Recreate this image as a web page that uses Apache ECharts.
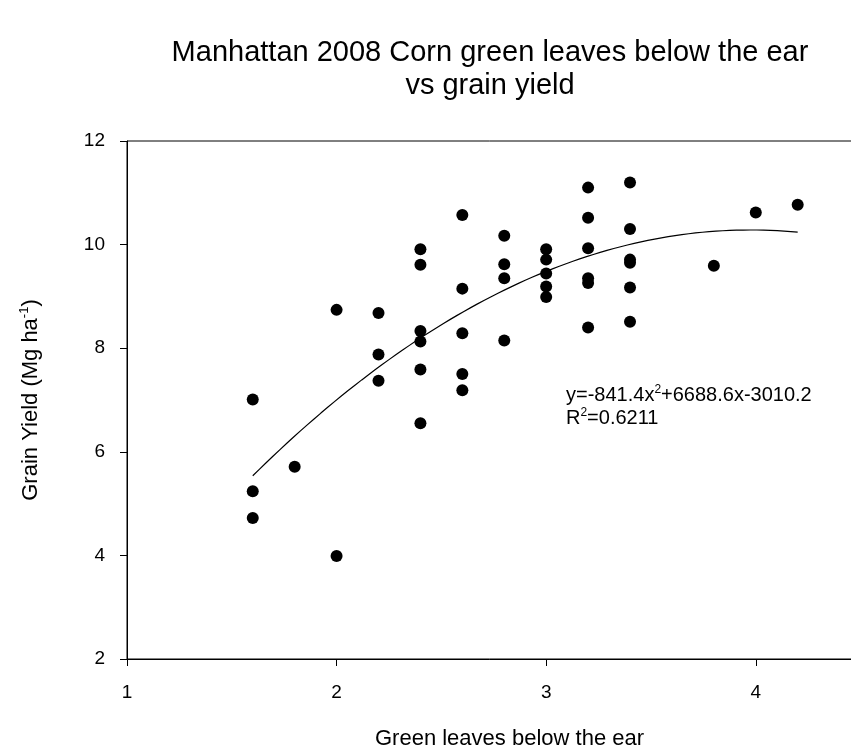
<!DOCTYPE html>
<html>
<head>
<meta charset="utf-8">
<title>Manhattan 2008 Corn green leaves below the ear vs grain yield</title>
<script src="https://cdn.jsdelivr.net/npm/echarts@6/dist/echarts.min.js"></script>
<style>
  html, body { margin: 0; padding: 0; background: #fff; }
  #chart { width: 851px; height: 745px; }
</style>
</head>
<body>
<div id="chart"></div>
<script>
// Green leaves below the ear (count) for each plot
const leaves = [
  1.6, 1.6, 1.6,
  1.8,
  2.0, 2.0,
  2.2, 2.2, 2.2,
  2.4, 2.4, 2.4, 2.4, 2.4, 2.4,
  2.6, 2.6, 2.6, 2.6, 2.6,
  2.8, 2.8, 2.8, 2.8,
  3.0, 3.0, 3.0, 3.0, 3.0,
  3.2, 3.2, 3.2, 3.2, 3.2, 3.2,
  3.4, 3.4, 3.4, 3.4, 3.4, 3.4,
  3.8,
  4.0,
  4.2
];
// Grain yield (Mg ha-1) for the same plots
const grainYield = [
  7.01, 5.24, 4.72,
  5.71,
  8.74, 3.99,
  8.68, 7.88, 7.37,
  9.91, 9.61, 8.33, 8.13, 7.59, 6.55,
  10.57, 9.15, 8.29, 7.50, 7.19,
  10.17, 9.62, 9.35, 8.15,
  9.91, 9.71, 9.44, 9.19, 8.99,
  11.10, 10.52, 9.93, 9.35, 9.26, 8.40,
  11.20, 10.30, 9.71, 9.65, 9.17, 8.51,
  9.59,
  10.62,
  10.77
];
// Quadratic regression y = a*x^2 + b*x + c (kg ha-1), shown in Mg ha-1
const fitCoef = [-841.4, 6688.6, -3010.2];
const fitRange = [1.6, 4.2];
const xTicks = [1, 2, 3, 4];
const yTicks = [2, 4, 6, 8, 10, 12];

const points = leaves.map((x, i) => [x, grainYield[i]]);

const fitLine = [];
const steps = 80;
for (let i = 0; i <= steps; i++) {
  const x = fitRange[0] + (fitRange[1] - fitRange[0]) * i / steps;
  const y = (fitCoef[0] * x * x + fitCoef[1] * x + fitCoef[2]) / 1000;
  fitLine.push([x, y]);
}

const font = 'Liberation Sans, Arial, sans-serif';
const chart = echarts.init(document.getElementById('chart'), null, { renderer: 'canvas' });

chart.setOption({
  backgroundColor: '#ffffff',
  animation: false,
  textStyle: { fontFamily: font, color: '#000' },
  grid: {
    left: 127, top: 141, right: -41, bottom: 86,
    outerBoundsMode: 'none',
    containLabel: false,
    show: true, borderColor: '#000', borderWidth: 1, backgroundColor: 'transparent'
  },
  xAxis: {
    type: 'value',
    min: xTicks[0], max: 4.65, interval: 1,
    name: 'Green leaves below the ear',
    nameLocation: 'middle',
    nameGap: 69,
    nameTextStyle: { fontSize: 22, fontFamily: font, color: '#000' },
    axisLine: { show: true, lineStyle: { color: '#000', width: 1 } },
    axisTick: { show: true, inside: false, length: 7, lineStyle: { color: '#000' } },
    axisLabel: { fontSize: 19, fontFamily: font, color: '#000', margin: 24, showMaxLabel: false },
    splitLine: { show: false }
  },
  yAxis: {
    type: 'value',
    min: yTicks[0], max: yTicks[yTicks.length - 1], interval: 2,
    name: '{t|Grain Yield (Mg ha}{s|-1}{t|)}',
    nameLocation: 'middle',
    nameRotate: 90,
    nameGap: 83,
    nameTextStyle: {
      fontSize: 22, fontFamily: font, color: '#000',
      rich: {
        t: { fontSize: 22, fontFamily: font, color: '#000', lineHeight: 26 },
        s: { fontSize: 13, fontFamily: font, color: '#000', verticalAlign: 'top', lineHeight: 26, padding: [0, 0, 10, 0] }
      }
    },
    axisLine: { show: true, lineStyle: { color: '#000', width: 1 } },
    axisTick: { show: true, inside: false, length: 7, lineStyle: { color: '#000' } },
    axisLabel: { fontSize: 19, fontFamily: font, color: '#000', margin: 22 },
    splitLine: { show: false }
  },
  series: [
    {
      type: 'line',
      data: fitLine,
      showSymbol: false,
      smooth: false,
      lineStyle: { color: '#000', width: 1.2 },
      z: 2
    },
    {
      type: 'scatter',
      data: points,
      symbol: 'circle',
      symbolSize: 12,
      itemStyle: { color: '#000', opacity: 1 },
      z: 3
    }
  ],
  graphic: [
    {
      type: 'text',
      x: 490, y: 36,
      style: {
        text: 'Manhattan 2008 Corn green leaves below the ear\nvs grain yield',
        font: '29px ' + font,
        fill: '#000',
        align: 'center',
        verticalAlign: 'top',
        lineHeight: 33
      }
    },
    {
      type: 'text',
      x: 566, y: 384,
      style: {
        text: '{t|y=-841.4x}{s|2}{t|+6688.6x-3010.2}\n{t|R}{s|2}{t|=0.6211}',
        fill: '#000',
        rich: {
          t: { font: '20px ' + font, fill: '#000', lineHeight: 23 },
          s: { font: '12px ' + font, fill: '#000', lineHeight: 23, verticalAlign: 'top', padding: [0, 0, 8, 0] }
        }
      }
    }
  ]
});
</script>
</body>
</html>
